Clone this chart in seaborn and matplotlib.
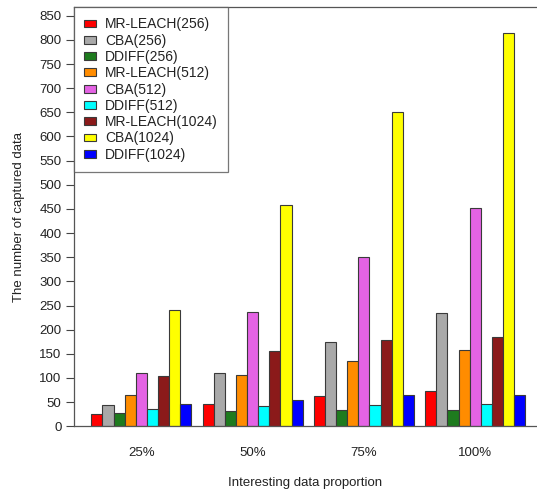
import matplotlib
matplotlib.use("Agg")
import matplotlib.pyplot as plt
import seaborn as sns
import pandas as pd

proportions = ["25%", "50%", "75%", "100%"]
series = ["MR-LEACH(256)", "CBA(256)", "DDIFF(256)",
          "MR-LEACH(512)", "CBA(512)", "DDIFF(512)",
          "MR-LEACH(1024)", "CBA(1024)", "DDIFF(1024)"]

mr_leach_256 = [25, 47, 62, 74]
cba_256 = [45, 110, 175, 235]
ddiff_256 = [27, 32, 33, 33]
mr_leach_512 = [64, 107, 135, 158]
cba_512 = [110, 236, 350, 451]
ddiff_512 = [36, 43, 45, 47]
mr_leach_1024 = [105, 156, 178, 184]
cba_1024 = [240, 459, 650, 815]
ddiff_1024 = [46, 54, 64, 65]

colors = ["#FF0000", "#A9A9A9", "#1E7B1E", "#FF8C00", "#E463E4",
          "#00FFFF", "#8B1A1A", "#FFFF00", "#0000FF"]

values = [mr_leach_256, cba_256, ddiff_256, mr_leach_512, cba_512,
          ddiff_512, mr_leach_1024, cba_1024, ddiff_1024]

rows = []
for name, vals in zip(series, values):
    for p, v in zip(proportions, vals):
        rows.append({"proportion": p, "series": name, "value": v})
df = pd.DataFrame(rows)

sns.set_style("white")
plt.rcParams["font.family"] = ["Liberation Sans", "DejaVu Sans"]

fig = plt.figure(figsize=(5.37, 4.97), dpi=100)
ax = fig.add_axes([74 / 537, 1 - 426.3 / 497, 1 - 74 / 537, (426.3 - 7) / 497])

sns.barplot(data=df, x="proportion", y="value", hue="series",
            order=proportions, hue_order=series, palette=colors,
            width=0.9, edgecolor="#3a3a3a", linewidth=0.8,
            saturation=1, ax=ax, errorbar=None)

ax.set_xlim(-0.605, 3.555)
ax.set_ylim(0, 868)
ax.set_yticks(range(0, 851, 50))
ax.tick_params(axis="y", length=6, width=0.8, color="#444444", labelsize=9.5,
               labelcolor="#222222", pad=3, left=True)
ax.tick_params(axis="x", length=0, labelsize=9.5, labelcolor="#222222", pad=15)

for side in ["left", "top", "bottom"]:
    ax.spines[side].set_visible(True)
    ax.spines[side].set_color("#555555")
    ax.spines[side].set_linewidth(0.9)
ax.spines["right"].set_visible(False)

ax.set_xlabel("Interesting data proportion", fontsize=9.5, color="#222222", labelpad=13)
ax.set_ylabel("The number of captured data", fontsize=9.5, color="#222222", labelpad=10)

handles, labels = ax.get_legend_handles_labels()
leg = ax.legend(handles, labels, loc="upper left", bbox_to_anchor=(0, 1),
                borderaxespad=0, frameon=True, fancybox=False,
                fontsize=10, handlelength=0.8, handleheight=0.5,
                handletextpad=0.7, labelspacing=0.165, borderpad=0.75)
leg.get_frame().set_edgecolor("#555555")
leg.get_frame().set_linewidth(0.9)
for t in leg.get_texts():
    t.set_color("#222222")

fig.savefig("out.png", dpi=100)
